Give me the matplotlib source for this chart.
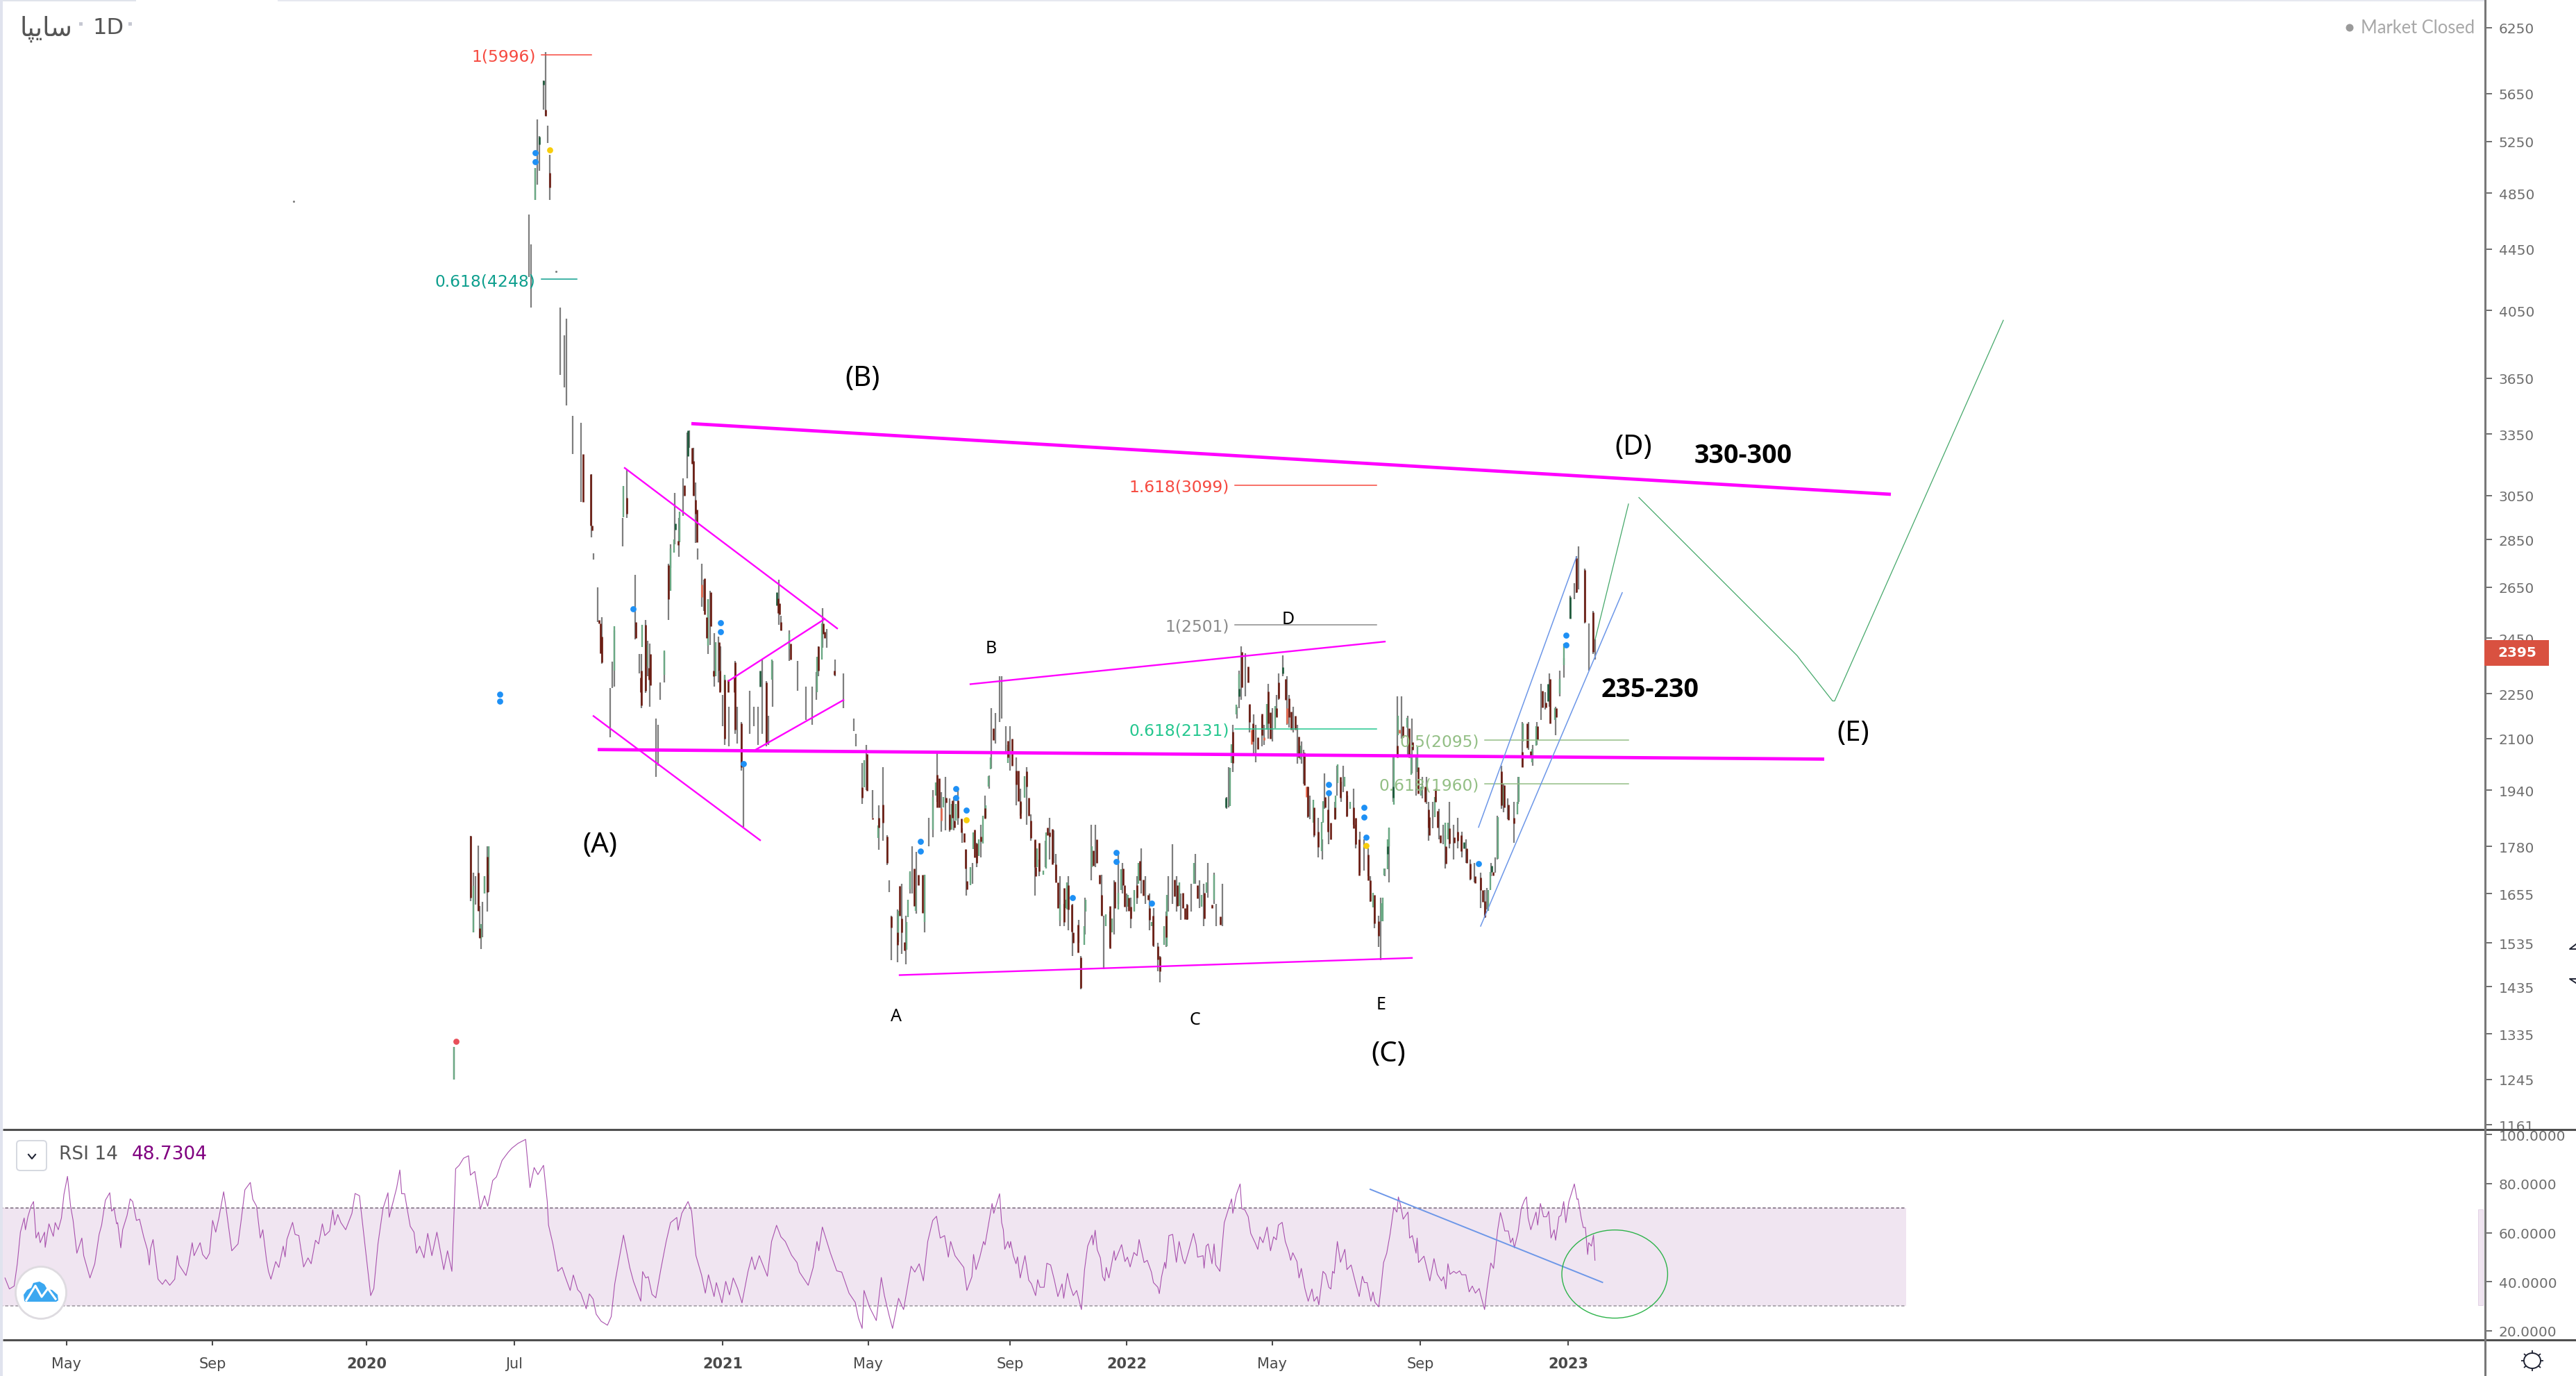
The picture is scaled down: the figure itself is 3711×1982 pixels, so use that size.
import numpy as np
import matplotlib
matplotlib.use('Agg')
import matplotlib.pyplot as plt
from matplotlib.lines import Line2D
from matplotlib.patches import Rectangle, Ellipse, Circle, Polygon, FancyBboxPatch
from matplotlib.ticker import NullLocator
from matplotlib.transforms import Affine2D

W, H = 3711, 1983

# daily candles of the symbol, x is the bar number on the chart
bars = [218,226,227.3,228.3,229.7,230.4,231,231.7,232.7,234,234.7,254,255,257,258,259,261,262,263,264,269,271,272,275,279,284,285,287,289,293,294,295,299,301,
        305,307,308,310,311,312,315,316,317,319,321,322,324,326,328,330,331,333,334,335,337,338,340,341,343,345,346,347,348,350,
        353,354,356,357,360,362,364,366,368,369,371,374,375,379,383,387,390,392,393,395,397,401,405,410,411,414,416,419,422,424,
        426,427,428,431,433,435,437,438,440,444,446,448,450,452,454,456,458,460,462,464,467,469,471,473,475,476,478,480,481,483,
        485,488,490,493,495,497,499,502,504,506,507,509,511,513,515,518,519,521,524,526,529,530,533,535,537,539,541,543,546,548,
        550,552,554,556,557,560,561,563,565,567,570,572,574,576,578,580,583,584,587,589,590,592,594,595,596,598,600,602,603,606,
        607,609,611,613,614,616,618,619,621,623,625,626,628,629,631,633,635,636,638,641,642,644,645,647,650,651,653,655,657,658,
        660,662,663,665,667,669,671,673,676,678,680,683,685,686,688,691,693,694,696,698,700,702,704,706,708,711,713,714,716,718,
        719,721,722,724,727,729,731,734,736,738,740,742,744,747,749,751,754,756,757,758,761,763,765,766]
highs = [1309,1808,1710,1700,1783,1625,1580,1634,1700,1780,1780,4693,4483,5040,5430,5293,5764,6021,5378,5143,4070,3900,4000,3445,3410,3150,2790,2650,2530,2270,2363,2480,2945,3170,
         2700,2390,2390,2520,2440,2430,2165,2145,2290,2400,2745,2830,3060,2945,3130,3360,3370,3280,3110,2810,2745,2680,2600,2635,2470,2455,2420,2245,2310,2205,
         2365,2205,2155,2015,2260,2205,2205,2370,2295,2175,2365,2680,2535,2480,2365,2275,2275,2325,2420,2565,2485,2370,2320,2165,2115,2023,2080,1940,1895,2010,
         1810,1690,1600,1615,1680,1600,1710,1780,1765,1705,1860,1940,2060,1935,1980,1915,1920,1945,1830,1770,1735,1790,1840,1925,1985,2200,2185,2310,2310,2140,
         2140,2040,1945,2010,1870,1795,1745,1795,1860,1825,1760,1700,1630,1700,1630,1590,1505,1645,1840,1840,1705,1600,1610,1690,1760,1735,1655,1645,1700,1775,
         1700,1655,1620,1535,1505,1610,1700,1785,1700,1655,1630,1680,1760,1690,1680,1735,1710,1630,1680,1920,2010,2145,2205,2330,2420,2395,2210,2180,2145,2175,
         2145,2285,2200,2245,2320,2385,2310,2245,2205,2145,2090,2065,1950,1925,1885,1860,1800,1990,1925,1905,2015,1965,2015,1925,1945,1840,1820,1800,1775,1700,
         1640,1600,1645,1720,1830,2040,2240,2240,2175,2165,2050,1980,1980,1905,1905,1885,1840,1810,1905,1840,1860,1820,1800,1745,1735,1710,1665,1670,1735,1750,
         1865,2015,1960,1915,1905,1980,2155,2155,2080,2155,2285,2255,2320,2205,2330,2375,2615,2665,2780,2820,2725,2505,2555,2445]
lows = [1245,1636,1560,1628,1612,1546,1520,1548,1655,1610,1660,4264,4069,4799,4914,5019,5510,5460,5238,4800,3670,3600,3500,3250,3020,2860,2765,2510,2355,2105,2270,2275,2820,2945,
        2445,2320,2200,2252,2310,2205,1980,2015,2230,2290,2520,2730,2830,2775,2955,3130,3280,3050,2835,2765,2570,2555,2390,2425,2275,2290,2260,2140,2080,2075,
        2115,2085,2000,1835,2115,2140,2080,2115,2075,2080,2205,2500,2480,2365,2260,2160,2145,2230,2310,2415,2415,2310,2200,2125,2075,1900,1940,1860,1770,1795,
        1730,1660,1495,1490,1510,1485,1655,1655,1605,1560,1780,1805,1905,1820,1825,1820,1825,1840,1790,1650,1680,1725,1750,1860,1945,2005,2085,2155,2165,2060,
        2000,1895,1865,1840,1795,1650,1700,1725,1745,1735,1690,1575,1575,1565,1505,1535,1430,1555,1690,1725,1600,1475,1525,1555,1630,1655,1610,1570,1630,1655,
        1630,1565,1525,1470,1445,1525,1610,1630,1610,1590,1590,1610,1680,1620,1575,1645,1630,1575,1575,1885,1890,1995,2165,2200,2230,2240,2120,2050,2025,2075,
        2080,2100,2090,2175,2230,2310,2145,2135,2120,2020,2020,1960,1860,1855,1805,1750,1745,1885,1785,1855,1925,1905,1935,1865,1840,1775,1710,1715,1700,1635,
        1570,1525,1495,1700,1685,1905,2050,2100,2040,1990,1925,1915,1900,1795,1830,1800,1785,1720,1775,1745,1775,1750,1735,1690,1685,1620,1595,1615,1700,1710,
        1745,1885,1875,1855,1790,1900,2010,2065,2015,2080,2160,2195,2205,2110,2240,2305,2525,2600,2625,2640,2505,2330,2390,2370]

# falling bodies, given as top and bottom of the body
red_bars = [226,229.7,230.4,234,262,264,280,283.7,284.4,287.6,288.2,288.9,301,305.3,307.8,308,310,311.7,312.2,321,325.6,328.6,332.4,333,334,334.7,338.4,339.2,341.4,342.8,345.2,345.8,348,349.7,352.8,353,356,368,373.7,374.4,375,379.7,393,395.2,396.1,400.8,
            414,416.4,419,422,424,426,428,431,432,433,434.4,439,441,443,450,451,454.2,456,457.5,458.5,460,461.6,463,463.6,464.4,468,469,471,473,477,484,486,488,489,490,493,494,495,497,497.4,499,503,504,505.5,507,508,511,513,514.6,515.3,517.8,519,525,526.6,528,529,533,535.5,539.4,540,542,543,546,547.5,549,551.3,552,553.6,556,557,560,564,565.5,568,569,570,575,578.3,582,586,
            592,596.5,599.5,600,601.7,604,606,609,610,613,614,617.5,619,620,622,623.6,626.5,628,631,633,636.5,637.6,639,641,643.7,646.7,650,651,652.8,657,658,660,662,671,673.6,676.7,678.4,681,684.5,686,686.5,689.5,690.3,691.7,694.3,696,698.4,700,701.7,704.5,706,708.4,711,712,713,717,721,722.5,724.5,727,731,733.4,735,738.4,740.6,742.3,744.3,747.3,757,761,765]
red_tops = [1808,1710,1570,1752,5511,5002,3251,3150,2913,2520,2505,2455,3040,2510,2305,2330,2500,2340,2390,2740,2845,3098,3280,3215,3030,2985,2685,2530,2630,2330,2435,2330,2300,2300,2305,2360,2150,2290,2605,2585,2510,2430,2420,2505,2475,2330,
            1949,2051,1860,1860,1897,1807,1599,1560,1675,1594,1537,1720,1705,1705,1987,1976,1918,1869,1910,1851,1910,1858,1816,1773,1688,1826,1787,1807,1887,2133,2092,2100,2000,2000,1907,1997,1918,1851,1800,1725,1790,1832,1819,1828,1732,1685,1670,1677,1628,1560,1579,1501,1768,1800,1705,1653,1625,1687,1720,1677,1646,1622,1677,1740,1692,1653,1620,1600,1527,1503,1600,1692,1677,1658,1620,1628,1677,1658,1628,1599,
            2122,2398,2347,2215,2150,2104,2183,2258,2186,2200,2290,2302,2233,2188,2175,2107,2055,1952,1890,1820,1920,1883,1845,1890,1980,1938,1890,1860,1800,1757,1689,1652,1587,2077,2140,2133,2088,2010,1952,1883,1862,1945,1880,1810,1780,1830,1805,1820,1810,1774,1733,1700,1697,1664,1637,1712,1997,1955,1898,1860,2057,2150,2060,2140,2260,2220,2302,2200,2770,2720,2550]
red_bottoms = [1645,1612,1546,1660,5460,4892,3020,2913,2890,2505,2395,2360,2965,2450,2254,2210,2260,2300,2280,2600,2825,3050,3200,3050,2965,2840,2540,2450,2495,2310,2330,2254,2100,2254,2254,2130,2010,2085,2545,2540,2480,2370,2330,2465,2450,2315,
               1918,1939,1855,1832,1845,1735,1571,1530,1600,1560,1517,1624,1677,1607,1890,1890,1904,1826,1860,1832,1860,1819,1791,1720,1667,1750,1735,1794,1858,2096,2041,2014,1958,1907,1858,1950,1865,1803,1725,1701,1713,1810,1807,1732,1685,1620,1585,1616,1562,1535,1512,1432,1728,1735,1680,1600,1522,1620,1677,1622,1612,1594,1645,1690,1650,1640,1590,1528,1497,1470,1548,1648,1625,1620,1592,1592,1644,1594,1620,1578,
               2022,2272,2288,2155,2090,2066,2110,2150,2100,2170,2233,2230,2170,2130,2130,2040,1955,1863,1810,1778,1890,1820,1800,1855,1918,1864,1830,1785,1703,1689,1636,1582,1552,2040,2105,2040,2065,1930,1905,1832,1810,1905,1832,1790,1733,1787,1790,1795,1767,1735,1693,1682,1664,1635,1597,1703,1895,1890,1853,1843,2010,2070,2040,2097,2203,2203,2150,2170,2630,2510,2400]

# rising bodies, light green in the chart
green_bars = [218,227.3,231,232.7,234.7,257,294.9,299.4,308.3,310.6,319,322,323.6,326.4,340,343.6,348,370.8,378.9,392.2,394.8,
              415,421.6,431.3,435.2,436,437,439.6,444,448,449.4,453,457,459,466,467.4,470,472,473.3,474.7,475.7,484,490.5,492,498,501,502.5,509,511.6,512.4,520.6,521.4,524.2,531,533.9,537,538.3,541.6,544.6,546.6,553,559,560.5,566.4,573.3,577,579.4,583,
              590.6,591.4,593.6,595,608.4,612.3,624.5,630.6,634.7,635.4,641.5,642.3,645.8,648.4,659.5,663.4,664,664.8,666.4,667,669.3,671.4,675.8,677.6,680.6,682.3,689,694,695.4,714.8,715.6,719.5,721.7,728.6,729.5,731.5,735.8,737.8,746.7,749.1,751]
green_tops = [1309,1675,1580,1700,1780,5040,2495,3095,2500,2425,2405,2810,2850,2975,2600,2435,2315,2370,2465,2380,2505,
              2032,1838,1613,1585,1640,1713,1670,1705,1920,1964,1920,1900,1900,1725,1819,1800,1865,1895,1983,2041,2080,1904,1983,1775,1716,1819,1628,1640,1685,1575,1640,1780,1603,1594,1658,1718,1653,1665,1736,1585,1575,1653,1685,1735,1653,1685,1705,
              2007,2082,2213,2318,2215,2207,2077,1912,1848,1907,1925,2018,1980,1905,1658,1632,1645,1721,1800,1832,2048,2176,2168,2052,2073,1952,1921,1845,1845,1664,1712,1862,1952,1905,1980,2150,2066,2140,2200,2302,2430]
green_bottoms = [1245,1560,1545,1655,1705,4799,2330,2950,2418,2345,2315,2635,2795,2840,2422,2310,2254,2300,2410,2254,2370,
                 1949,1803,1537,1519,1597,1667,1613,1585,1826,1925,1890,1826,1851,1677,1773,1753,1787,1860,1950,2004,2023,1872,1918,1725,1705,1720,1589,1620,1616,1531,1610,1725,1575,1560,1616,1665,1622,1610,1680,1575,1531,1527,1625,1680,1622,1658,1640,
                 1894,2022,2179,2268,2130,2133,2033,1845,1767,1845,1858,1962,1952,1885,1621,1587,1587,1703,1718,1780,1898,2110,2137,1987,1995,1925,1862,1780,1800,1612,1664,1746,1898,1870,1905,2090,2025,2078,2160,2250,2350]

dark_green_bars = [259,261,324.4,330.2,365,373,588.7,595,616,666.2,669,703,716.4,743.4,754]
dark_green_tops = [5290,5764,2920,3370,2330,2630,1918,2268,2343,1780,1952,1792,1728,2285,2610]
dark_green_bottoms = [5225,5725,2895,3240,2275,2575,1890,2240,2320,1760,1918,1774,1712,2225,2525]
orange_bars = [337,452,601,606.9,618,627.3,672]
orange_tops = [2660,1887,2130,2104,2200,1952,2130]
orange_bottoms = [2610,1851,2082,2095,2150,1920,2118]

blue_dot_bars = [240,240,257,257,304,346,346,357,442,442,459,459,464,515,536,536,553,638,638,655,655,656,710,752,752]
blue_dot_prices = [2248,2224,5159,5089,2562,2508,2473,2020,1793,1767,1944,1918,1882,1645,1763,1739,1632,1958,1932,1890,1862,1805,1733,2460,2425]
yellow_dot_bars = [264,464,656]
yellow_dot_prices = [5181,1853,1783]
red_dot_bars = [219]
red_dot_prices = [1320]
stray_bars = [141,267]
stray_prices = [4788,4300]

price_ticks = [6250,5650,5250,4850,4450,4050,3650,3350,3050,2850,2650,2450,2250,2100,1940,1780,1655,1535,1435,1335,1245,1161]
last_price = 2395

# fibonacci levels: label, price, first bar, last bar, colour
fib_levels = [('1(5996)',5996,260,284,'#f6493f'),
              ('0.618(4248)',4248,260,277,'#0e9f8e'),
              ('1.618(3099)',3099,593,661,'#f6493f'),
              ('1(2501)',2501,593,661,'#8a8a8a'),
              ('0.618(2131)',2131,593,661,'#25c78f'),
              ('0.5(2095)',2095,713,782,'#93bf85'),
              ('0.618(1960)',1960,713,782,'#93bf85')]

# hand drawn trend lines, (bar, price) at both ends
thick_magenta = [((332,3405),(908,3055)),((287,2065),(876,2035))]
thin_magenta = [((300,3181),(402,2487)),((285,2174),(365,1797)),((350,2295),(396,2523)),
                ((363,2065),(405,2228)),((466,2283),(665,2437)),((432,1461),(678,1500))]
blue_channel = [((710,1833),(757,2775)),((711,1575),(779,2627))]
projection_bars = [[766,782],[787,863,865,880,881,962]]
projection_prices = [[2445,3010],[3040,2385,2365,2225,2225,3990]]

# RSI(14)
rsi_bars = [2.4,4.5,6.8,8.3,9.8,11.6,12.2,13.4,14.9,16.1,17.3,18.5,19.3,21.4,21.7,23.5,25.6,26.5,28,29.5,30.7,32.4,33.9,35.1,36.9,39.3,40.2,43.2,45.5,47.6,
            48.8,50.6,52.7,53.6,54.8,56,56.5,58,58.9,61,62.5,63.7,65.5,67,69,70.8,71.7,72.3,73.5,75.9,78,79.5,81.5,83.9,85.1,86,89.3,90.5,92.3,93.2,
            96.1,97.3,99.1,100.6,102.1,103.6,105.1,107.4,108.6,111.3,114.3,115.8,117.6,120.2,121.4,123.2,125,126.2,128,128.9,130.1,132.4,133.9,136,136.9,137.8,140.5,141.7,143.5,145.8,
            147.9,149.4,151.5,153,154.8,156,158.3,159.8,160.7,162.2,163.7,166,169,170.5,172.6,174.7,178,179.5,181.5,183.9,186.3,186.9,190.5,192,192.9,194.3,195.8,197,198.8,200,
            201.5,203.6,205.4,207.4,209.8,213.1,214.9,217,218.8,220.5,222.6,225,225.9,228,230.7,232.7,234.2,236.6,238.4,241.1,244,245.8,248.8,252.4,254.5,256.5,258.3,261,262.8,263.4,
            265.5,267.9,269.9,271.4,273.8,275.3,277.4,278.9,281.5,283,284.8,286.3,288.7,291.7,293.5,295.2,297.6,299.4,302.4,304.2,307.7,308.6,310.1,311.3,313.1,314.9,317.3,319.9,322,325,
            325.6,327.4,330.4,332.1,334.2,336.9,338.7,340.2,342.9,344,346.7,348.5,350.3,352.1,354.2,356.3,359.2,361,362.5,364.6,368.5,370.5,372.9,375,377.1,380.1,382.7,383.9,388.1,390.5,
            392.3,393.2,394.9,398.8,401.8,404.2,407.7,410.7,412.2,414,414.9,417.6,420.8,423.2,424.7,427.1,428.6,431.5,433.9,437.5,439.3,441.4,443.4,445.5,447.9,449.7,451.5,453.6,455.4,456.5,
            458.6,462.8,464.3,466.7,
            467.5,468.7,470.5,472.3,473,476.4,477.2,480,481,481.8,482.5,484,484.8,485.3,486.6,487.9,488.6,489.9,492.2,494,495.3,497.3,498.3,499.4,501.4,502.7,504.5,506.2,508,510,
            510.8,512.6,513.9,515.4,517,519.3,520.8,522.3,524.4,524.9,525.9,526.9,528.4,529.5,530.5,531.2,532.5,535,535.6,538.6,540.2,541.4,542.7,544.5,546,547,549.4,550.9,552.9,553.9,
            556,556.7,557.8,559.3,559.8,561.3,563.1,564.9,566.2,568,569,570.5,573.1,574.4,575.1,577.7,578.2,579.2,580.2,582,583,583.8,585.8,587.9,591.4,592,593.7,595.5,596.3,597.8,
            599.4,600.6,602.7,604,605,606.5,608.5,610.1,611.6,612.9,613.9,615.7,617.2,618.7,619.8,620.8,622.8,623.8,624.9,626.6,628.2,630,631,632.5,633.3,635.3,636.6,638.1,639.1,639.9,
            640.7,642.2,643.7,645.8,646.8,648.8,650.9,652.7,654.2,655.2,656.5,658.3,659.3,660.3,662.1,663.1,664.4,665.9,667.5,669.3,670.8,671.5,672.8,673.8,676.1,676.9,678.2,680,680.5,681.2,
            683.8,685.6,686.6,688.6,690.2,692.2,693.2,694.3,695.3,696.3,698.1,699.3,700.9,701.9,703.9,705.5,707,708.5,710.3,711.1,712.9,714.1,715.9,717.2,719.2,720.5,721.5,722.6,724.3,725.4,
            726.4,727.2,729,730.5,732,733,733.8,735.1,737.6,738.4,739.7,741.2,742.7,743.7,744.8,746.3,747,748.6,749.6,750.9,751.9,753.4,756,757.3,757.8,759.3,760.3,761.3,762.4,762.9,
            764.2,765.2,765.9]
rsi_vals = [41.5,37,38.2,47.3,60.2,66,61.2,66.5,70.8,72.7,57.8,60.2,55.9,60.2,54,63.6,58.5,64.1,61.2,66,75.6,83,70.8,65,51.6,57.8,50.6,41.5,47.3,59.3,
            63.1,73.2,76.3,68.8,69.8,63.6,64.1,53.8,61.2,67,73.8,72.7,65,65.5,58.3,53,46.8,53.5,57.2,41,38.9,40.8,38.5,41,50.6,46.8,42.5,46.8,55.9,50.6,
            55.9,51.1,49.2,51.6,65,60.2,66,76.7,69.8,52.6,55.4,65,77.5,80.5,73.6,70.8,57.8,61.2,48.7,44.2,41,48.2,45.8,54.5,50.1,57.3,64.2,59.3,58.8,46,
            49.7,47.3,56.9,55.4,63.6,58.8,60.7,69.3,63.1,67.4,64.1,61.2,67.9,76,75.1,59.3,34.3,37.2,55.4,69.8,76.3,66.3,78.4,85.6,75.9,75.9,68.4,62.6,60.2,51.6,
            54.5,49.7,59.7,50.6,60.2,44.9,52.6,44.2,86.1,87.5,90.4,91.4,83.5,85,69.6,75.1,70.8,81.3,82.8,89.5,92.8,94.5,96.5,98.1,78.4,86.6,83.7,87.5,72.7,63.1,
            55.4,44.2,45.8,42,36.4,42.7,36.7,35.3,28.9,35,32.9,26.7,23.8,22.2,25.7,39.1,50.6,59,45.8,40.1,32,44.1,41.5,42,34.8,33.4,44.9,56.4,64.1,66.2,
            61,67.9,72.7,68.8,50.6,42.7,35.3,42.8,33.9,39.6,31.3,40.1,34.6,41.5,37.2,31.3,44.2,50.1,44.9,50.6,42.2,56.4,63,58.3,56.4,50.8,47.8,43.9,38.5,45.8,
            56.4,52.6,62.3,51.6,44.4,43.9,35.3,31.5,25.2,20.9,36.4,29.5,24.1,41.7,34.3,25.7,20.9,33.2,28.6,46.3,43.9,47.3,40.3,56.4,65,66.7,57.8,58.8,50,56.4,
            50.6,45.8,36.4,42,
            51.1,44.9,50,56.4,55,71.9,67.9,75.9,64.1,61.2,53.2,56.4,53.8,56.4,50.6,47.3,50.1,41.5,50.6,40.6,39.1,34.3,40.8,37.7,37.7,47.5,46.8,41,33.9,39.1,
            33.2,43.4,38.2,34.3,36.4,28.6,44.9,54.5,59,55,61,53,49.7,42,40.3,45.8,41.5,52.6,48.7,55.1,48.2,50,46,51.9,50.6,57.2,47.8,48.7,43.9,39.6,
            37.7,35.1,42,47.9,45.4,58.8,59.3,47.9,56.4,49.2,47.3,51.6,59.7,55.1,50,50.6,45.5,54.5,55.4,47.3,55.4,46.8,44.2,64.1,73.8,67.9,75.6,79.9,69.8,69.3,
            66.5,59.7,55.9,53.2,58.3,55.9,62.3,52.6,58.3,57.1,63.1,64.2,56.4,52.6,48.7,51.8,48.2,41.5,45.4,37.2,32,37,32,33.9,30.5,44.2,43,37.7,37,44.2,
            43.4,56.4,47.9,53.2,44.9,46.8,39.6,33.9,42.2,39.6,39.6,32,35.8,31.5,29.7,37.2,47.8,51.6,59.3,70.3,68.4,74.6,70.3,65.5,68.4,57.8,58.8,51.6,57.8,47.8,
            50.4,43.9,40.3,49.4,43,40.3,42,37,47.3,43,44.2,43.4,44.4,42.8,42.8,35.8,38.2,35.3,37.2,34.3,28.6,37.2,47.6,45.4,61.2,68.2,65,60.7,60.7,55.9,
            57.8,53.8,60.2,69.8,73.2,74.6,66,61.2,68.4,63.1,71.9,66.5,66.5,68.7,57.8,61.2,56.9,66.5,67,72.7,64.1,72.7,79.9,73.6,73.8,66,62.1,62.1,51.1,55.9,
            54.5,59,48.7]
rsi_ticks = [100,80,60,40,20]
rsi_upper = 70
rsi_lower = 30
rsi_trend = ((658,77.7),(769.5,39.7))

date_ticks = [32,102,176,247,347,417,485,541,611,682,753]
date_labels = ['May','Sep','2020','Jul','2021','May','Sep','2022','May','Sep','2023']
year_labels = ['2020','2021','2022','2023']

# pixel coordinates of the image, y going down
px = Affine2D().scale(1, -1).translate(0, H)
GREY = '#6e6e6e'
MAGENTA = '#ff00ff'


def panel(top, bottom):
    return [4 / W, 1 - bottom / H, (3580 - 4) / W, (bottom - top) / H]


def label(x, y, s, size, **kw):
    kw.setdefault('ha', 'center')
    kw.setdefault('va', 'center')
    kw.setdefault('color', 'black')
    return fig.text(x, y, s, fontsize=size, transform=px, **kw)


def bar_line(x0, y0, x1, y1, color, lw):
    fig.add_artist(Line2D([x0, x1], [y0, y1], color=color, lw=lw, transform=px, zorder=6,
                          solid_capstyle='butt'))


fig = plt.figure(figsize=(W / 100, H / 100), dpi=100, facecolor='white')
ax = fig.add_axes(panel(3, 1627))
ax2 = fig.add_axes(panel(1627, 1931))

# price pane
ax.set_yscale('log')
ax.set_xlim(4 / 3, 3580 / 3)
ax.set_ylim(1154, 6508)
ax.set_yticks(price_ticks)
ax.set_yticklabels([str(p) for p in price_ticks])
ax.yaxis.set_minor_locator(NullLocator())
ax.yaxis.tick_right()
ax.tick_params(axis='y', length=7.2, width=1.4, pad=7, labelsize=14.5, colors=GREY)
ax.set_xticks([])
for s in ('top', 'left', 'bottom', 'right'):
    ax.spines[s].set_visible(False)

ax.vlines(bars, lows, highs, colors='#7e7e7e', lw=1.6, zorder=2)
ax.vlines(green_bars, green_bottoms, green_tops, colors='#6aa984', lw=1.7, zorder=3)
ax.vlines(dark_green_bars, dark_green_bottoms, dark_green_tops, colors='#1c5a3a', lw=1.9, zorder=3)
ax.vlines(orange_bars, orange_bottoms, orange_tops, colors='#e5664c', lw=1.9, zorder=3)
ax.vlines(red_bars, red_bottoms, red_tops, colors='#6b1c12', lw=1.9, zorder=3)

ax.scatter(blue_dot_bars, blue_dot_prices, s=40, color='#1e90f5', zorder=4, lw=0)
ax.scatter(yellow_dot_bars, yellow_dot_prices, s=40, color='#f8cd0c', zorder=4, lw=0)
ax.scatter(red_dot_bars, red_dot_prices, s=40, color='#e8505a', zorder=4, lw=0)
ax.scatter(stray_bars, stray_prices, s=5, color='#808080', zorder=2, lw=0)

for (name, price, b0, b1, col) in fib_levels:
    ax.plot([b0, b1], [price, price], color=col, lw=1.1, zorder=3)
    ax.annotate(name, (b0, price), xytext=(-6, -1.5), textcoords='offset points', ha='right',
                va='center', fontsize=16.8, color=col, zorder=5, annotation_clip=False)

for (p0, p1) in thick_magenta:
    ax.plot([p0[0], p1[0]], [p0[1], p1[1]], color=MAGENTA, lw=3.4, zorder=5, solid_capstyle='butt')
for (p0, p1) in thin_magenta:
    ax.plot([p0[0], p1[0]], [p0[1], p1[1]], color=MAGENTA, lw=1.7, zorder=5)
for (p0, p1) in blue_channel:
    ax.plot([p0[0], p1[0]], [p0[1], p1[1]], color='#6d97e8', lw=1.1, zorder=5)
for xs, ys in zip(projection_bars, projection_prices):
    ax.plot(xs, ys, color='#45a86a', lw=0.9, zorder=5)

# rsi pane
ax2.set_xlim(4 / 3, 3580 / 3)
ax2.set_ylim(16.2, 102.4)
ax2.axhspan(rsi_lower, rsi_upper, xmin=0, xmax=(2746 - 4) / 3576, color='#f0e5f1', lw=0, zorder=1)
ax2.plot(rsi_bars, rsi_vals, color='#a851ad', lw=0.8, zorder=3)
ax2.plot([0, 915], [rsi_upper, rsi_upper], color='#8a7b8c', lw=1.3, ls=(0, (2.5, 1.6)), zorder=2)
ax2.plot([0, 915], [rsi_lower, rsi_lower], color='#a9a3ab', lw=1.3, ls=(0, (2.5, 1.6)), zorder=2)
ax2.plot([rsi_trend[0][0], rsi_trend[1][0]], [rsi_trend[0][1], rsi_trend[1][1]], color='#6d97e8', lw=1.4, zorder=4)
ax2.add_patch(Ellipse((775.4, 43.1), 50.8, 36, fill=False, edgecolor='#2db34a', lw=1.0, zorder=4))

ax2.set_yticks(rsi_ticks)
ax2.set_yticklabels(['%.4f' % v for v in rsi_ticks])
ax2.yaxis.tick_right()
ax2.tick_params(axis='y', length=7.2, width=1.4, pad=7, labelsize=14.5, colors=GREY)
ax2.set_xticks(date_ticks)
ax2.set_xticklabels(date_labels)
ax2.tick_params(axis='x', length=6, width=1.5, pad=11, labelsize=15, colors='#4a4a4a')
for t in ax2.get_xticklabels():
    if t.get_text() in year_labels:
        t.set_fontweight('bold')
for s in ('top', 'left', 'right', 'bottom'):
    ax2.spines[s].set_visible(False)

# frame of the terminal
fig.add_artist(Rectangle((0, 0), 4, H, transform=px, color='#e0e3ee', lw=0, zorder=6))
fig.add_artist(Rectangle((4, 0), 192, 3, transform=px, color='#e0e3eb', lw=0, zorder=6))
fig.add_artist(Rectangle((400, 0), 3180, 3, transform=px, color='#e6e8f0', lw=0, zorder=6))
bar_line(4, 1627.5, W, 1627.5, '#4f4f4f', 2.2)
bar_line(4, 1931, W, 1931, '#4f4f4f', 2.2)
bar_line(3580, 0, 3580, H, '#787878', 2.2)
fig.add_artist(Rectangle((3570, 1743), 7, 138, transform=px, facecolor='#f0e5f1', edgecolor='#e3d3e5', lw=0.7, zorder=6))

# last price tag
fig.add_artist(Rectangle((3579, 923), 93, 37, transform=px, color='#d95140', lw=0, zorder=7))
bar_line(3581, 940, 3590, 940, '#f3b3aa', 1.2)
label(3626, 941, str(last_price), 14.5, color='white', fontweight='bold', zorder=8)

# header, the Persian name is in shaped forms since matplotlib has no shaping
label(28, 42, '\ufe8e\ufb59\ufbfe\ufe8e\ufeb3', 27, ha='left', color='#555555', family=['DejaVu Sans'])
label(133, 41, '1D', 23, ha='left', color='#555555')
fig.add_artist(Rectangle((114, 33), 5, 5, transform=px, color='#c6c8d2', lw=0, zorder=6))
fig.add_artist(Rectangle((185, 33), 5, 5, transform=px, color='#c6c8d2', lw=0, zorder=6))
fig.add_artist(Circle((3385, 41), 5.5, transform=px, color='#9a9a9a', lw=0, zorder=6))
label(3565, 41, 'Market Closed', 18.4, ha='right', color='#a8a8a8', family='Lato')

# wave labels
wave_font = 'Noto Sans'
for x, y, s in [(864, 1218, '(A)'), (1243, 546, '(B)'), (2000, 1519, '(C)'), (2353, 645, '(D)'), (2670, 1057, '(E)')]:
    label(x, y, s, 29, family=wave_font)
for x, y, s in [(1291, 1465, 'A'), (1428, 935, 'B'), (1721, 1470, 'C'), (1856, 893, 'D'), (1990, 1448, 'E')]:
    label(x, y, s, 18, family=wave_font)
label(2511, 657, '330-300', 27, fontweight='bold', family='Open Sans')
label(2377, 994, '235-230', 27, fontweight='bold', family='Open Sans')

# rsi legend
fig.add_artist(FancyBboxPatch((25, 1645), 41, 41, boxstyle='round,pad=1,rounding_size=5', transform=px,
                              facecolor='white', edgecolor='#d5d8e0', lw=1.4, zorder=6))
fig.add_artist(Line2D([41, 46, 51], [1664, 1670, 1664], color='#1f2333', lw=1.5, transform=px, zorder=7))
label(85, 1663, 'RSI 14', 19, ha='left', color='#555555')
label(190, 1663, '48.7304', 19, ha='left', color='#800080')

# logo
fig.add_artist(Ellipse((59, 1863), 73, 75, transform=px, facecolor='white', edgecolor='#dedbe0', lw=2, zorder=6))
cloud = [(35, 1875), (34, 1866), (39, 1859), (45, 1856), (48, 1849), (57, 1847), (64, 1851), (68, 1858), (75, 1859),
         (83, 1866), (84, 1874), (81, 1876), (37, 1876)]
fig.add_artist(Polygon(cloud, closed=True, transform=px, facecolor='#3ba7f0', edgecolor='none', zorder=7))
fig.add_artist(Line2D([38, 51, 60, 69, 80], [1874, 1853, 1869, 1857, 1872], color='white', lw=2.2, transform=px, zorder=8))

# settings wheel and scale arrows
fig.add_artist(Ellipse((3648, 1961), 24, 22, transform=px, fill=False, edgecolor='#1f2333', lw=1.4, zorder=6))
for dx, dy in [(-16, 0), (16, 0), (0, -15), (0, 15), (-12, -10), (12, -10), (-12, 10), (12, 10)]:
    bar_line(3648 + dx * 0.75, 1961 + dy * 0.75, 3648 + dx, 1961 + dy, '#1f2333', 1.3)
fig.add_artist(Line2D([3711, 3702, 3711], [1361, 1368, 1368], color='#1f2333', lw=1.4, transform=px, zorder=6))
fig.add_artist(Line2D([3711, 3702, 3711], [1417, 1411, 1411], color='#1f2333', lw=1.4, transform=px, zorder=6))

fig.savefig('out.png', dpi=100, facecolor='white')
